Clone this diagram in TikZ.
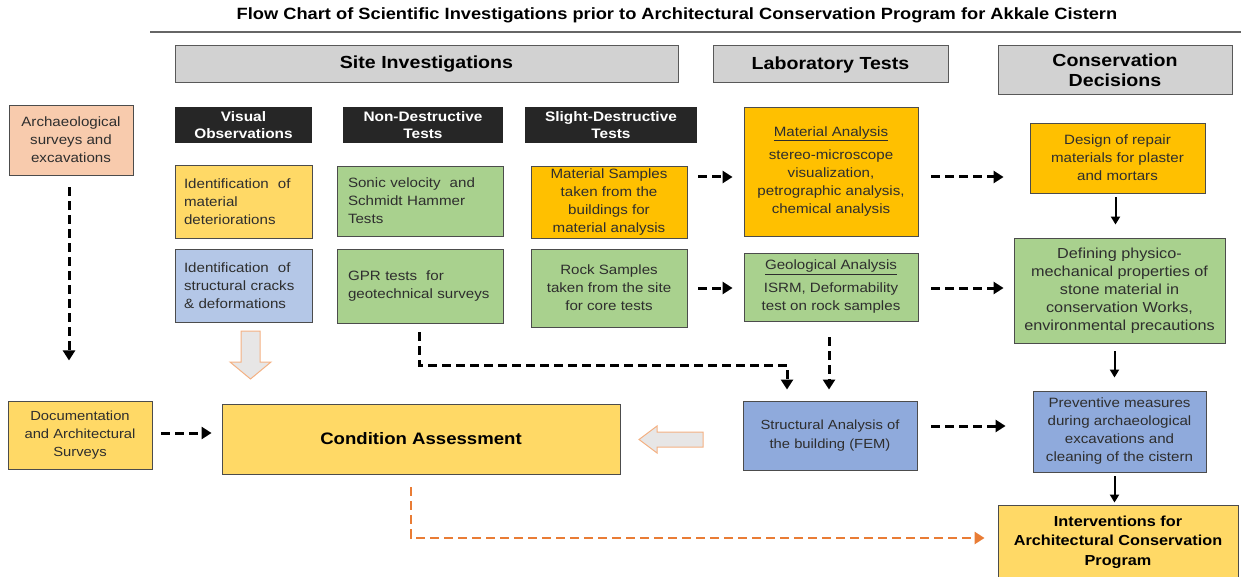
\documentclass[tikz,border=0pt]{standalone}
\usepackage{fontspec}
\setmainfont{Liberation Sans}[FakeStretch=1.12]
\usetikzlibrary{arrows.meta,calc}
\definecolor{peach}{HTML}{F8CBAD}
\definecolor{yel}{HTML}{FFD966}
\definecolor{grn}{HTML}{A9D18E}
\definecolor{org}{HTML}{FFC000}
\definecolor{lblue}{HTML}{B4C7E7}
\definecolor{blu}{HTML}{8FAADC}
\definecolor{hdrgray}{HTML}{D2D2D2}
\definecolor{lab}{HTML}{262626}
\definecolor{orline}{HTML}{E97C35}
\definecolor{bafill}{HTML}{E7E6E6}
\definecolor{badraw}{HTML}{F4B183}
\definecolor{txt}{HTML}{2E2E2E}
\tikzset{
  box/.style={draw=black!70, line width=0.9pt, inner sep=0pt, align=center, text=txt,
    font=\fontsize{13.5}{18}\selectfont},
  hdr/.style={draw=black!65, fill=hdrgray, line width=1pt, inner sep=0pt, align=center,
    font=\bfseries\fontsize{17.5}{20}\selectfont},
  blk/.style={fill=lab, text=white, inner sep=0pt, align=center,
    font=\bfseries\fontsize{13.75}{17}\selectfont},
  darr/.style={line width=3pt, dash pattern=on 9pt off 5pt, -{Triangle[length=10pt,width=12pt]}},
  sarr/.style={line width=2pt, -{Triangle[length=8pt,width=9pt]}},
  oarr/.style={line width=2.8pt, draw=orline, dash pattern=on 9pt off 5pt, -{Triangle[length=10pt,width=12pt]}, color=orline},
  blockarrow/.style={fill=bafill, draw=badraw, line width=1pt, line join=miter},
}
\begin{document}
\begin{tikzpicture}[x=1pt,y=-1pt]
\useasboundingbox (0,0) rectangle (1241,577);
% title
\node[font=\bfseries\fontsize{16.3}{19}\selectfont] (title) at (677,15) {Flow Chart of Scientific Investigations prior to Architectural Conservation Program for Akkale Cistern};
\coordinate (ruleL) at (150,32);
\coordinate (ruleR) at (1241,32);
\draw[black!60, line width=1.2pt] (ruleL) -- (ruleR);
% headers
\node[hdr, minimum width=503pt, minimum height=37pt] (site) at (426.5,64.5) {Site Investigations};
\node[hdr, minimum width=235pt, minimum height=37pt] (lab) at (830.5,64.5) {Laboratory Tests};
\node[hdr, minimum width=234pt, minimum height=49pt] (cons) at (1115,70.5) {Conservation\\Decisions};
% black labels
\node[blk, minimum width=137pt, minimum height=36pt] (vis) at (243.5,125) {Visual\\Observations};
\node[blk, minimum width=160pt, minimum height=36pt] (ndt) at (423,125) {Non-Destructive\\Tests};
\node[blk, minimum width=172pt, minimum height=36pt] (sdt) at (611,125) {Slight-Destructive\\Tests};
% boxes
\node[box, fill=peach, minimum width=124pt, minimum height=70pt] (arch) at (71,140) {Archaeological\\surveys and\\excavations};
\node[box, fill=yel, minimum width=137pt, minimum height=73pt, text width=119pt, align=left] (idmat) at (243.5,201.5) {Identification\ \ of\\material\\deteriorations};
\node[box, fill=grn, minimum width=166pt, minimum height=70pt, text width=144pt, align=left] (sonic) at (420,201) {Sonic velocity\ \ and\\Schmidt Hammer\\Tests};
\node[box, fill=org, minimum width=156pt, minimum height=72pt] (matsamp) at (609,202) {Material Samples\\taken from the\\buildings for\\material analysis};
\node[box, fill=org, minimum width=174pt, minimum height=129pt] (matan) at (831,171.5) {\underline{Material Analysis}\\[5pt]stereo-microscope\\visualization,\\petrographic analysis,\\chemical analysis};
\node[box, fill=org, minimum width=175pt, minimum height=70pt] (design) at (1117.5,158) {Design of repair\\materials for plaster\\and mortars};
\node[box, fill=lblue, minimum width=137pt, minimum height=73pt, text width=119pt, align=left] (idstr) at (243.5,285.5) {Identification\ \ of\\structural cracks\\\&\ deformations};
\node[box, fill=grn, minimum width=166pt, minimum height=74pt, text width=144pt, align=left] (gpr) at (420,286) {GPR tests\ \ for\\geotechnical surveys};
\node[box, fill=grn, minimum width=156pt, minimum height=78pt] (rock) at (609,288) {Rock Samples\\taken from the site\\for core tests};
\node[box, fill=grn, minimum width=174pt, minimum height=68pt] (geo) at (831,287) {\underline{Geological Analysis}\\[5pt]ISRM, Deformability\\test on rock samples};
\node[box, fill=grn, minimum width=211pt, minimum height=105pt, font=\fontsize{14.5}{18}\selectfont] (defin) at (1119.5,290.5) {Defining physico-\\mechanical properties of\\stone material in\\conservation Works,\\environmental precautions};
\node[box, fill=yel, minimum width=144pt, minimum height=68pt, font=\fontsize{13.2}{18}\selectfont] (doc) at (80,435) {Documentation\\and Architectural\\Surveys};
\node[box, fill=yel, minimum width=398pt, minimum height=70pt, font=\bfseries\fontsize{16.6}{20}\selectfont, text=black] (cond) at (421,439) {Condition Assessment};
\node[box, fill=blu, minimum width=174pt, minimum height=69pt, font=\fontsize{13.2}{19}\selectfont] (struct) at (830,435.5) {Structural Analysis of\\the building (FEM)};
\node[box, fill=blu, minimum width=173pt, minimum height=81pt] (prev) at (1119.5,431.5) {Preventive measures\\during archaeological\\excavations and\\cleaning of the cistern};
\node[box, fill=yel, minimum width=240pt, minimum height=74pt, font=\bfseries\fontsize{14.5}{19.5}\selectfont, text=black] (interv) at (1118,542) {Interventions for\\Architectural Conservation\\Program};
% block arrows
\filldraw[blockarrow] (241,331) -- (260,331) -- (260,362) -- (271,362) -- (250.5,379) -- (230,362) -- (241,362) -- cycle;
\filldraw[blockarrow] (703,432) -- (657,432) -- (657,426) -- (639,439.5) -- (657,453) -- (657,447) -- (703,447) -- cycle;
% connectors
\draw[darr] ([xshift=-2pt,yshift=-12pt]arch.south) -- ++(0,173);
\draw[darr] ([xshift=9pt,yshift=2pt]doc.east) -- ([xshift=-10pt,yshift=2pt]cond.west |- doc.east);
\draw[darr] ([xshift=11pt,yshift=25pt]matsamp.east) -- ([xshift=-11pt,yshift=-5.5pt]matan.west);
\draw[darr] ([xshift=13pt,yshift=-5.5pt]matan.east) -- ([xshift=-26pt,yshift=-19pt]design.west);
\draw[darr] ([xshift=11pt]rock.east) -- ([xshift=-11pt,yshift=-1pt]geo.west);
\draw[darr] ([xshift=13pt,yshift=-1pt]geo.east) -- ([xshift=-10pt,yshift=2.5pt]defin.west);
\draw[sarr] ([xshift=-2pt,yshift=-4pt]design.south) -- ([xshift=-2pt,yshift=13pt]design.south |- defin.north);
\draw[sarr] ([xshift=-5pt,yshift=-8pt]defin.south) -- ([xshift=-5pt,yshift=13pt]prev.north);
\draw[sarr] ([xshift=-5pt,yshift=-4pt]prev.south) -- ([xshift=-5pt,yshift=2pt]prev.south |- interv.north);
\draw[darr] ([xshift=14pt,yshift=9.5pt]struct.east) -- ([xshift=-27pt,yshift=5.5pt]prev.west);
\draw[darr, line join=miter] ([xshift=-1pt,yshift=-9pt]gpr.south) -- ([xshift=-1pt,yshift=-42pt]gpr.south) -| ([xshift=-43pt,yshift=11pt]struct.north);
\draw[darr] ([xshift=-2pt,yshift=-16pt]geo.south) -- ([xshift=-1pt,yshift=11pt]struct.north);
\draw[oarr, line join=miter] ([xshift=-10pt,yshift=-13pt]cond.south) |- ([xshift=-13pt,yshift=4pt]interv.west);
\end{tikzpicture}
\end{document}
